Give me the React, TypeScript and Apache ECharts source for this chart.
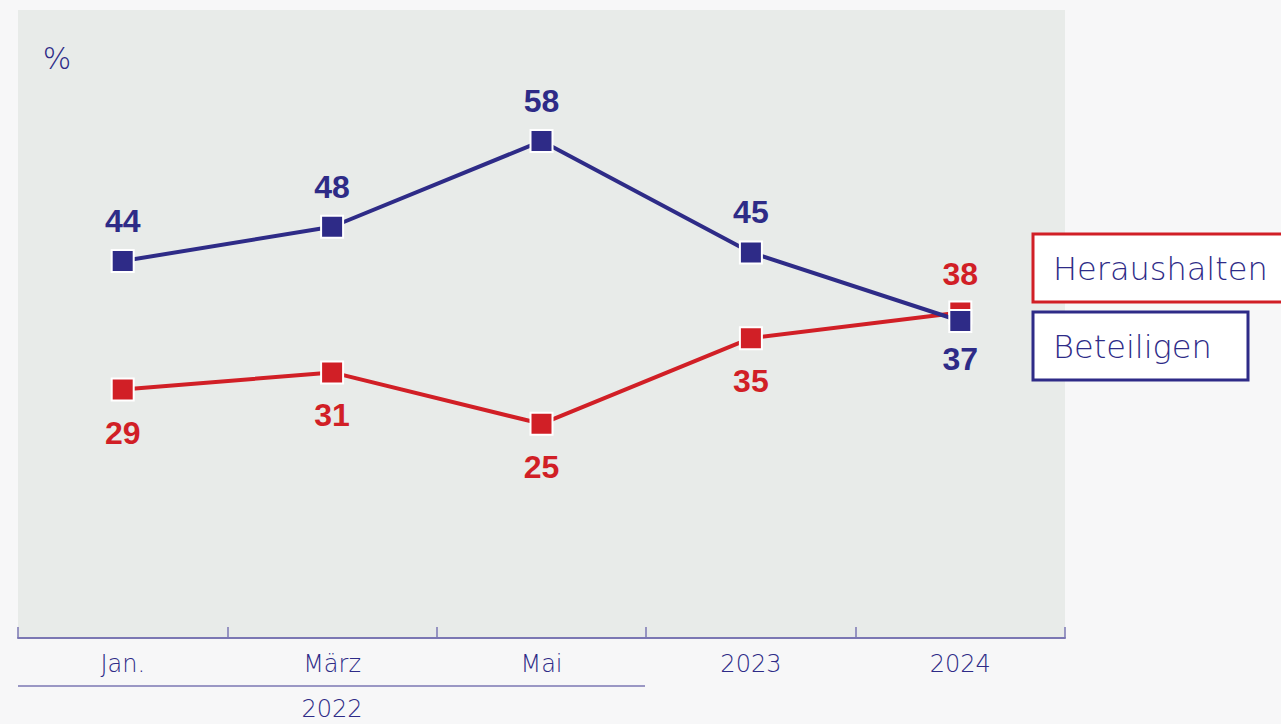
import React, { useEffect, useRef } from "react";
import * as echarts from "echarts";

const categories = ["Jan.", "März", "Mai", "2023", "2024"];
const heraushalten = [29, 31, 25, 35, 38];
const beteiligen = [44, 48, 58, 45, 37];
const yearGroup = "2022";
const unitLabel = "%";

const BLUE = "#2e2b87";
const RED = "#d11f26";
const AXIS = "#7b77b3";
const FONT = "'DejaVu Sans', sans-serif";
const LW = 200;

export default function App() {
  const ref = useRef<HTMLDivElement>(null);
  useEffect(() => {
    const chart = echarts.init(ref.current!, null, { renderer: "svg" });
    const bluePos = beteiligen.map((v, i) => (v < heraushalten[i] ? "bottom" : "top"));
    const redPos = heraushalten.map((v, i) => (v > beteiligen[i] ? "top" : "bottom"));
    chart.setOption({
      animation: false,
      backgroundColor: "#f7f7f8",
      grid: {
        left: 18,
        right: 216,
        top: 10,
        bottom: 86,
        show: true,
        backgroundColor: "#e8ebe9",
        borderWidth: 0,
      },
      xAxis: {
        type: "category",
        data: categories,
        boundaryGap: true,
        axisLine: { lineStyle: { color: AXIS, width: 2 } },
        axisTick: { show: true, inside: true, length: 11, lineStyle: { color: AXIS, width: 1.5 } },
        axisLabel: { color: BLUE, fontSize: 24, fontWeight: LW, fontFamily: FONT, margin: 14 },
        splitLine: { show: false },
      },
      yAxis: {
        type: "value",
        min: 0,
        max: 73.3,
        show: false,
        splitLine: { show: false },
      },
      series: [
        {
          name: "Heraushalten",
          type: "line",
          data: heraushalten.map((v, i) => ({
            value: v,
            label: {
              position: redPos[i],
              distance: redPos[i] === "top" ? 10 : 15,
            },
          })),
          z: 2,
          lineStyle: { color: RED, width: 4 },
          itemStyle: { color: RED, borderColor: "#ffffff", borderWidth: 2 },
          symbol: "rect",
          symbolSize: 22,
          showAllSymbol: true,
          label: {
            show: true,
            color: RED,
            fontSize: 32,
            fontWeight: "bold",
            fontFamily: "'Liberation Sans', Arial, sans-serif",
          },
        },
        {
          name: "Beteiligen",
          type: "line",
          data: beteiligen.map((v, i) => ({
            value: v,
            label: {
              position: bluePos[i],
              distance: bluePos[i] === "top" ? 12 : 10,
            },
          })),
          z: 3,
          lineStyle: { color: BLUE, width: 4 },
          itemStyle: { color: BLUE, borderColor: "#ffffff", borderWidth: 2 },
          symbol: "rect",
          symbolSize: 22,
          showAllSymbol: true,
          label: {
            show: true,
            color: BLUE,
            fontSize: 32,
            fontWeight: "bold",
            fontFamily: "'Liberation Sans', Arial, sans-serif",
          },
        },
      ],
      graphic: [
        {
          type: "text",
          x: 57,
          y: 58,
          style: {
            text: unitLabel,
            fill: BLUE,
            fontSize: 30,
            fontWeight: LW,
            fontFamily: FONT,
            align: "center",
            verticalAlign: "middle",
          },
        },
        {
          type: "line",
          shape: { x1: 18, y1: 686, x2: 645, y2: 686 },
          style: { stroke: AXIS, lineWidth: 1.5 },
        },
        {
          type: "text",
          x: 332,
          y: 709,
          style: {
            text: yearGroup,
            fill: BLUE,
            fontSize: 24,
            fontWeight: LW,
            fontFamily: FONT,
            align: "center",
            verticalAlign: "middle",
          },
        },
        {
          type: "rect",
          shape: { x: 1033, y: 234, width: 260, height: 68 },
          style: { fill: "#ffffff", stroke: RED, lineWidth: 3 },
        },
        {
          type: "text",
          x: 1053,
          y: 269,
          style: {
            text: "Heraushalten",
            fill: BLUE,
            fontSize: 32,
            fontWeight: LW,
            fontFamily: FONT,
            verticalAlign: "middle",
          },
        },
        {
          type: "rect",
          shape: { x: 1033, y: 312, width: 215, height: 68 },
          style: { fill: "#ffffff", stroke: BLUE, lineWidth: 3 },
        },
        {
          type: "text",
          x: 1053,
          y: 347,
          style: {
            text: "Beteiligen",
            fill: BLUE,
            fontSize: 32,
            fontWeight: LW,
            fontFamily: FONT,
            verticalAlign: "middle",
          },
        },
      ],
    });
    return () => chart.dispose();
  }, []);
  return (
    <div
      ref={ref}
      style={{ position: "fixed", left: 0, top: 0, width: 1281, height: 724 }}
    />
  );
}
